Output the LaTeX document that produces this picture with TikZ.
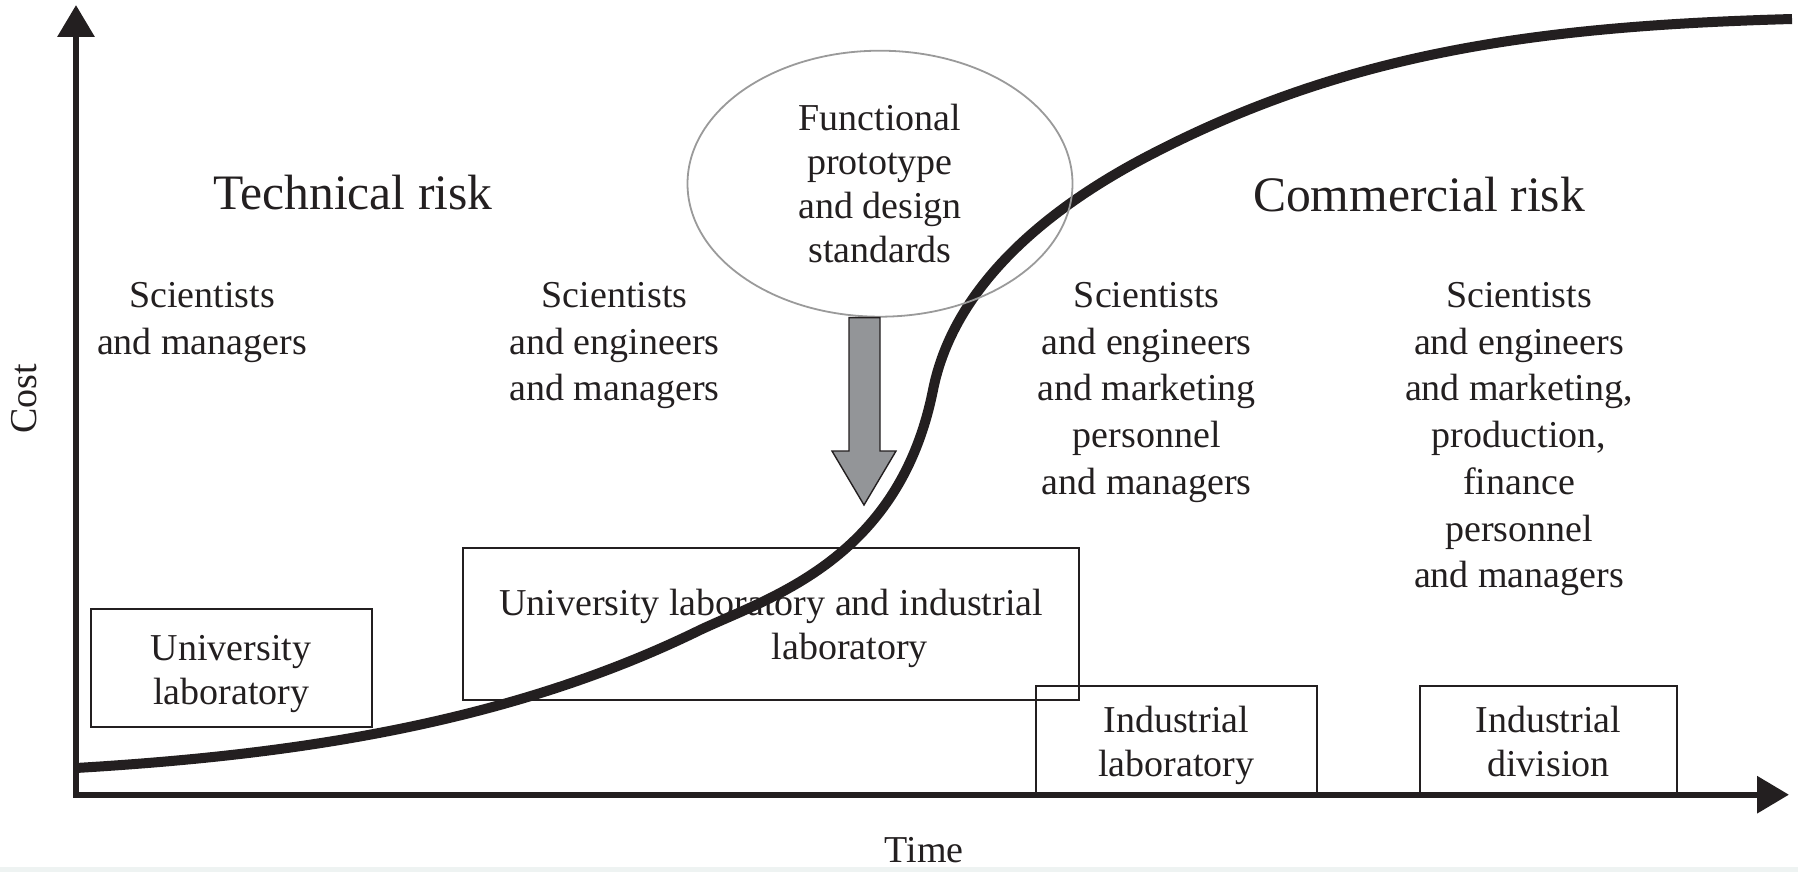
\documentclass[tikz,border=0pt]{standalone}
\usepackage{fontspec}
\setmainfont{Liberation Serif}
\usetikzlibrary{arrows.meta,shapes.geometric}
\definecolor{ink}{HTML}{231F20}
\definecolor{ellgray}{HTML}{9A9A9A}
\definecolor{arrowfill}{HTML}{939598}
\definecolor{band}{HTML}{EEF3F2}
\begin{document}
\begin{tikzpicture}[x=0.5pt,y=-0.5pt,
  every node/.style={text=ink},
  body/.style={font=\fontsize{19}{23.35}\selectfont, align=center, inner sep=0pt},
  titletext/.style={font=\fontsize{24.8}{30}\selectfont, inner sep=0pt},
  boxframe/.style={draw=ink, line width=1pt, inner sep=0pt},
  boxtext/.style={font=\fontsize{19}{22}\selectfont, align=center, inner sep=0pt},
  axisline/.style={draw=ink, line width=3.2pt, line join=miter,
     {Triangle[length=16pt,width=18pt]}-{Triangle[length=16pt,width=18pt]}},
  scurve/.style={draw=ink, line width=5pt},
  ellnode/.style={ellipse, draw=ellgray, line width=0.9pt, inner sep=0pt,
     font=\fontsize{19}{22}\selectfont, align=center},
  bigarrow/.style={fill=arrowfill, draw=ink, line width=0.7pt, line join=miter}
]
\useasboundingbox (0,0) rectangle (1798,872);
\fill[band] (0,867) rectangle (1798,872);

% boxes
\node[boxframe, minimum width=140.5pt, minimum height=58.85pt] (ulab) at (231.2,667.9) {};
\node[boxtext] (ulabt) at ([yshift=-3pt]ulab.center) {University\\laboratory};
\node[boxframe, minimum width=307.85pt, minimum height=75.85pt] (uilab) at (771.2,624.2) {};
\node[boxtext] (uilabt) at ([yshift=-2.3pt]uilab.center)
  {University laboratory and industrial\\\hspace*{78.5pt}laboratory};
\node[boxframe, minimum width=140.7pt, minimum height=54.35pt] (ilab) at (1176.3,740.3) {};
\node[boxtext] (ilabt) at ([yshift=-2.5pt]ilab.center) {Industrial\\laboratory};
\node[boxframe, minimum width=128.5pt, minimum height=54.35pt] (idiv) at (1548.3,740.3) {};
\node[boxtext] (idivt) at ([yshift=-0.8pt]idiv.center) {Industrial\\division};

% axes
\coordinate (ytip) at (76,5);
\coordinate (xtip) at (1789,794.7);
\draw[axisline] (ytip) |- (xtip);
\node[body, rotate=90] (cost) at (24,399) {Cost};
\node[body] (time) at (924,850) {Time};

% titles
\node[titletext] (tech) at (353,193) {Technical risk};
\node[titletext] (comm) at (1419,195) {Commercial risk};

% staff columns
\node[body, anchor=north] (c1) at (202,282) {Scientists\\and managers};
\node[body, anchor=north] (c2) at (614.6,282) {Scientists\\and engineers\\and managers};
\node[body, anchor=north] (c3) at (1146.7,282) {Scientists\\and engineers\\and marketing\\personnel\\and managers};
\node[body, anchor=north] (c4) at (1519,282) {Scientists\\and engineers\\and marketing,\\production,\\finance\\personnel\\and managers};

% S-curve
\coordinate (cstart) at (76,768);
\coordinate (cend) at (1792,19);
\draw[scurve] (cstart) .. controls (276,756) and (500,728) .. (700,630)
  .. controls (770,597) and (899,560) .. (933,390)
  .. controls (953,290) and (1040,212) .. (1150,155)
  .. controls (1350,51) and (1542,26) .. (cend);

% ellipse
\node[ellnode, minimum width=192.5pt, minimum height=133pt] (fp) at (880,183.7)
  {Functional\\prototype\\and design\\standards};

% gray arrow
\draw[bigarrow] (fp.south -| 849,0) -- (849,451) -- (832,451) -- (864,505)
  -- (896,451) -- (880,451) -- (fp.south -| 880,0) -- cycle;
\end{tikzpicture}
\end{document}
